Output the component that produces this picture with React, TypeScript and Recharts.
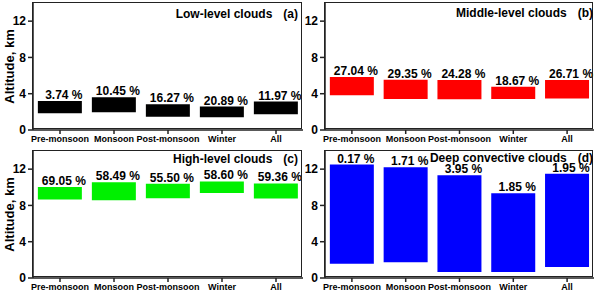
import React from 'react'
import { BarChart, Bar, XAxis, YAxis, LabelList, Label } from 'recharts'

const categories = ['Pre-monsoon', 'Monsoon', 'Post-monsoon', 'Winter', 'All']

const lowBase = [1.84, 1.95, 1.47, 1.4, 1.73]
const lowTop = [3.2, 3.6, 2.84, 2.58, 3.13]
const lowPct = ['3.74', '10.45', '16.27', '20.89', '11.97']

const midBase = [3.84, 3.43, 3.4, 3.43, 3.47]
const midTop = [5.83, 5.54, 5.5, 4.76, 5.5]
const midPct = ['27.04', '29.35', '24.28', '18.67', '26.71']

const highBase = [8.65, 8.58, 8.8, 9.38, 8.76]
const highTop = [10.03, 10.55, 10.4, 10.65, 10.43]
const highPct = ['69.05', '58.49', '55.50', '58.60', '59.36']

const deepBase = [1.56, 1.75, 0.67, 0.67, 1.2]
const deepTop = [12.5, 12.2, 11.33, 9.33, 11.5]
const deepPct = ['0.17', '1.71', '3.95', '1.85', '1.95']

const yTicks = [0, 4, 8, 12]

const FONT = 'Arial, "Liberation Sans", sans-serif'
const AXIS = '#222'

interface PanelProps {
  base: number[]
  top: number[]
  pct: string[]
  color: string
  title: string
  tag: string
  showYLabel: boolean
  left: number
  topPos: number
  width: number
  height: number
  marginTop: number
  marginRight: number
  yAxisWidth: number
  xAxisHeight: number
  titleTop: number
  titleRight: number
}

// plain svg text so the label never wraps to the bar width
function PctLabel(props: any) {
  const { x, y, width, height, value } = props
  const topY = Math.min(Number(y), Number(y) + Number(height))
  return (
    <text
      x={Number(x) + Number(width) / 2 + 4}
      y={topY - 2}
      textAnchor="middle"
      fontSize={12}
      fontWeight={700}
      fontFamily={FONT}
      fill="#000"
    >
      {value}
    </text>
  )
}

function Panel(p: PanelProps) {
  const data = categories.map((c, i) => ({
    name: c,
    range: [p.base[i], p.top[i]],
    pct: `${p.pct[i]} %`,
  }))

  const plotH = p.height - p.marginTop - p.xAxisHeight
  const plotW = p.width - p.marginRight - p.yAxisWidth

  return (
    <div style={{ position: 'absolute', left: p.left, top: p.topPos, width: p.width, height: p.height }}>
      <BarChart
        width={p.width}
        height={p.height}
        data={data}
        margin={{ top: p.marginTop, right: p.marginRight, bottom: 0, left: 0 }}
        barCategoryGap="9%"
      >
        <XAxis
          dataKey="name"
          height={p.xAxisHeight}
          interval={0}
          tickSize={4}
          tickMargin={2}
          stroke={AXIS}
          strokeWidth={1.5}
          tick={{ fontSize: 9, fontWeight: 700, fill: '#000', fontFamily: FONT }}
        />
        <YAxis
          domain={[0, 14]}
          ticks={yTicks}
          width={p.yAxisWidth}
          tickSize={5}
          tickMargin={2}
          stroke={AXIS}
          strokeWidth={1.5}
          tick={{ fontSize: 12, fontWeight: 700, fill: '#000', fontFamily: FONT }}
        >
          {p.showYLabel && (
            <Label
              value="Altitude, km"
              angle={-90}
              position="insideLeft"
              offset={9}
              style={{ textAnchor: 'middle', fontSize: 13, fontWeight: 700, fill: '#000', fontFamily: FONT }}
            />
          )}
        </YAxis>
        <Bar dataKey="range" fill={p.color} isAnimationActive={false}>
          <LabelList dataKey="pct" content={PctLabel} />
        </Bar>
      </BarChart>
      {/* frame around the plot area */}
      <div
        style={{
          position: 'absolute',
          left: p.yAxisWidth - 0.75,
          top: p.marginTop - 0.75,
          width: plotW,
          height: plotH,
          border: `1.5px solid ${AXIS}`,
          boxSizing: 'border-box',
          pointerEvents: 'none',
        }}
      />
      <div
        style={{
          position: 'absolute',
          top: p.titleTop,
          right: p.titleRight,
          fontFamily: FONT,
          fontWeight: 700,
          fontSize: 12,
          lineHeight: '14px',
          whiteSpace: 'nowrap',
        }}
      >
        {p.title}
        <span style={{ marginLeft: 11 }}>{p.tag}</span>
      </div>
    </div>
  )
}

export default function App() {
  return (
    <div style={{ position: 'absolute', left: 0, top: 0, width: 600, height: 304, background: '#fff' }}>
      <Panel
        base={lowBase} top={lowTop} pct={lowPct} color="#000000"
        title="Low-level clouds" tag="(a)" showYLabel
        left={0} topPos={0} width={310} height={152}
        marginTop={3} marginRight={7} yAxisWidth={33} xAxisHeight={22}
        titleTop={7} titleRight={12}
      />
      <Panel
        base={midBase} top={midTop} pct={midPct} color="#ff0000"
        title="Middle-level clouds" tag="(b)" showYLabel={false}
        left={300} topPos={0} width={300} height={152}
        marginTop={3} marginRight={6} yAxisWidth={25} xAxisHeight={22}
        titleTop={6} titleRight={7}
      />
      <Panel
        base={highBase} top={highTop} pct={highPct} color="#00f000"
        title="High-level clouds" tag="(c)" showYLabel
        left={0} topPos={150} width={310} height={154}
        marginTop={1} marginRight={7} yAxisWidth={33} xAxisHeight={26}
        titleTop={2} titleRight={12}
      />
      <Panel
        base={deepBase} top={deepTop} pct={deepPct} color="#0000ff"
        title="Deep convective clouds" tag="(d)" showYLabel={false}
        left={300} topPos={150} width={300} height={154}
        marginTop={1} marginRight={6} yAxisWidth={25} xAxisHeight={26}
        titleTop={1} titleRight={7}
      />
    </div>
  )
}
